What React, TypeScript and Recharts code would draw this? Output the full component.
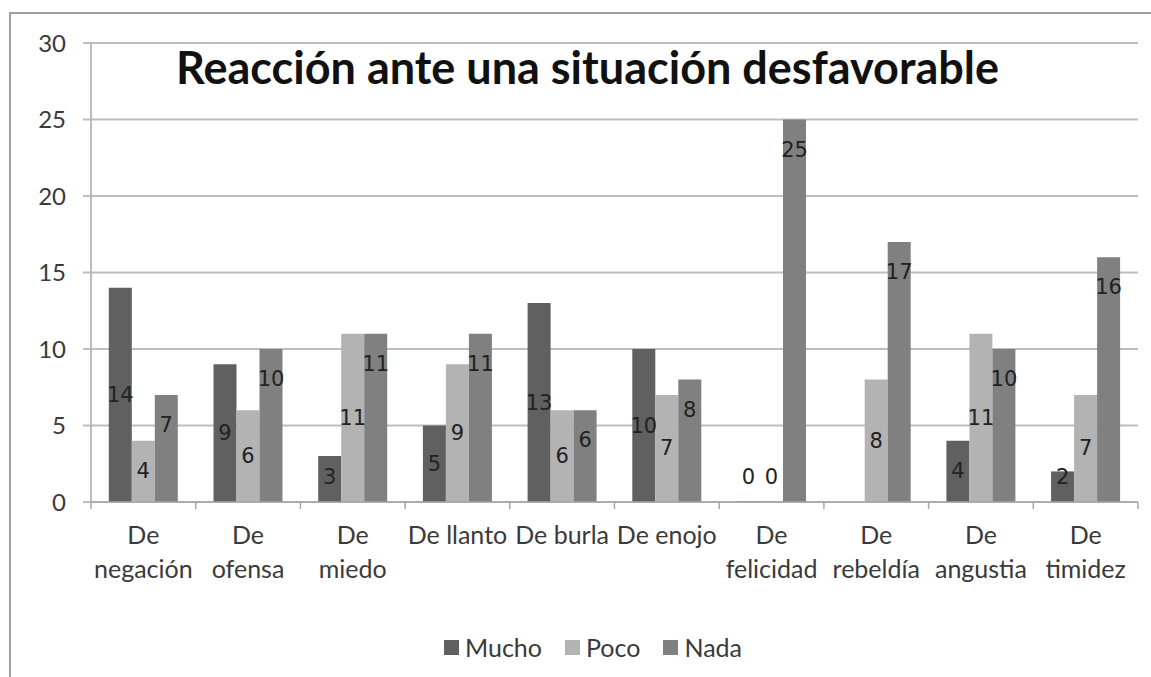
import React from 'react';
import { BarChart, Bar, XAxis, YAxis, CartesianGrid, Legend, LabelList } from 'recharts';

// categories (line break where the original label wraps)
const categories = [
  'De\nnegación',
  'De\nofensa',
  'De\nmiedo',
  'De llanto',
  'De burla',
  'De enojo',
  'De\nfelicidad',
  'De\nrebeldía',
  'De\nangustia',
  'De\ntimidez',
];
const mucho = [14, 9, 3, 5, 13, 10, 0, null, 4, 2];
const poco = [4, 6, 11, 9, 6, 7, 0, 8, 11, 7];
const nada = [7, 10, 11, 11, 6, 8, 25, 17, 10, 16];
const yTicks = [0, 5, 10, 15, 20, 25, 30];

const data = categories.map((name, i) => ({ name, Mucho: mucho[i], Poco: poco[i], Nada: nada[i] }));

const W = 1151;
const H = 677;
const MARGIN = { top: 43, right: 13, left: 0, bottom: 15 };
const Y_W = 91;
const BAND = (W - MARGIN.left - MARGIN.right - Y_W) / categories.length;

const COLORS = { Mucho: '#606060', Poco: '#b3b3b3', Nada: '#808080' };
const AXIS = '#a6a6a6';
const GRID = '#bebebe';
const TXT = '#3a3a3a';
const FONT = 'Lato, "Open Sans", sans-serif';

// keep zero-valued bars in the label list (they get a hairline height)
const zeroMin = (v: any) => (v === 0 ? 0.5 : 0);

function CatTick(props: any) {
  const { x, y, payload, index } = props;
  const lines = String(payload.value).split('\n');
  const left = x - BAND / 2;
  return (
    <g>
      <line x1={left} x2={left} y1={y - 8} y2={y - 1} stroke={AXIS} strokeWidth={1.5} />
      {index === categories.length - 1 && (
        <line x1={left + BAND} x2={left + BAND} y1={y - 8} y2={y - 1} stroke={AXIS} strokeWidth={1.5} />
      )}
      <text x={x} y={y + 34} textAnchor="middle" fontSize={25} fontFamily={FONT} fill={TXT}>
        {lines.map((l, i) => (
          <tspan key={i} x={x} dy={i === 0 ? 0 : 34}>
            {l}
          </tspan>
        ))}
      </text>
    </g>
  );
}

function centerLabel(props: any) {
  const { x, y, width, height, value } = props;
  if (value == null) return null;
  const cy = Math.min(y + height / 2, y + height - 25);
  return (
    <text x={x + width / 2} y={cy} textAnchor="middle" dominantBaseline="central" fontSize={21} fontFamily="DejaVu Sans, sans-serif" fill="#222">
      {value}
    </text>
  );
}

function topLabel(props: any) {
  const { x, y, width, value } = props;
  if (value == null) return null;
  return (
    <text x={x + width / 2} y={y + 30} textAnchor="middle" dominantBaseline="central" fontSize={21} fontFamily="DejaVu Sans, sans-serif" fill="#222">
      {value}
    </text>
  );
}

function LegendBox() {
  const items = ['Mucho', 'Poco', 'Nada'] as const;
  return (
    <div style={{ display: 'flex', justifyContent: 'center', gap: 23, fontFamily: FONT, fontSize: 25, color: TXT, height: 30, alignItems: 'center', paddingLeft: 48 }}>
      {items.map((k) => (
        <span key={k} style={{ display: 'flex', alignItems: 'center' }}>
          <span style={{ display: 'inline-block', width: 15, height: 15, background: COLORS[k], marginRight: 6 }} />
          {k}
        </span>
      ))}
    </div>
  );
}

export default function App() {
  return (
    <div style={{ position: 'absolute', left: 0, top: 0, width: W, height: H, background: '#fff', overflow: 'hidden' }}>
      <div style={{ position: 'absolute', left: 9, top: 12, width: W, height: H, borderLeft: '2px solid #a0a0a0', borderTop: '2px solid #a0a0a0' }} />
      <BarChart width={W} height={H} data={data} margin={MARGIN} barCategoryGap="17%" barGap={0}>
        <CartesianGrid vertical={false} stroke={GRID} strokeWidth={2} />
        <XAxis
          dataKey="name"
          interval={0}
          height={130}
          tickLine={false}
          axisLine={{ stroke: AXIS, strokeWidth: 1.5 }}
          tick={<CatTick />}
        />
        <YAxis
          domain={[0, 30]}
          ticks={yTicks}
          width={Y_W}
          tickSize={8}
          tickMargin={17}
          axisLine={{ stroke: AXIS, strokeWidth: 1.5 }}
          tickLine={{ stroke: GRID, strokeWidth: 2 }}
          tick={{ fontSize: 24, fontFamily: FONT, fill: TXT }}
        />
        <Legend verticalAlign="bottom" content={<LegendBox />} />
        <Bar dataKey="Mucho" fill={COLORS.Mucho} minPointSize={zeroMin} isAnimationActive={false}>
          <LabelList dataKey="Mucho" content={centerLabel} />
        </Bar>
        <Bar dataKey="Poco" fill={COLORS.Poco} minPointSize={zeroMin} isAnimationActive={false}>
          <LabelList dataKey="Poco" content={centerLabel} />
        </Bar>
        <Bar dataKey="Nada" fill={COLORS.Nada} isAnimationActive={false}>
          <LabelList dataKey="Nada" content={topLabel} />
        </Bar>
      </BarChart>
      <div
        style={{
          position: 'absolute',
          left: 0,
          width: 1175,
          top: 40,
          textAlign: 'center',
          fontFamily: FONT,
          fontWeight: 700,
          fontSize: 45,
          color: '#111',
          lineHeight: '54px',
        }}
      >
        Reacción ante una situación desfavorable
      </div>
    </div>
  );
}
